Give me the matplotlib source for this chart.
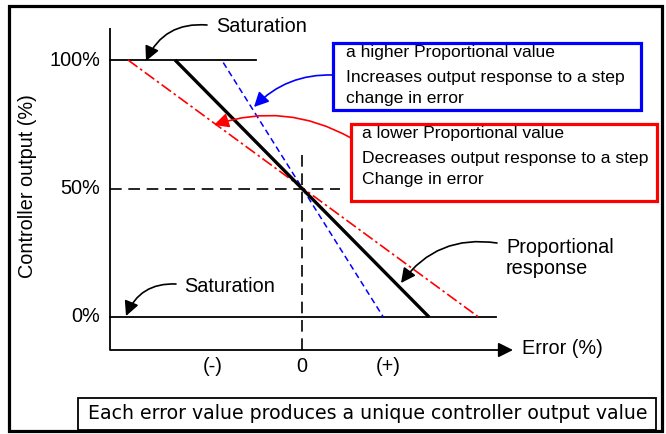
import matplotlib
matplotlib.use("Agg")
import matplotlib.pyplot as plt
from matplotlib.patches import Rectangle, FancyArrowPatch

plt.rcParams['font.family'] = ['Liberation Sans', 'DejaVu Sans']

# ---------------- data ----------------
output_ticks = [0, 50, 100]
output_tick_labels = ["0%", "50%", "100%"]
error_ticks = [-35, 0, 34]
error_tick_labels = ["(-)", "0", "(+)"]

prop_error = [-50, 50]          # proportional response (black)
prop_output = [100, 0]
high_error = [-31, 32]          # higher proportional value (blue)
high_output = [99, 0]
low_error = [-68.5, 69.5]       # lower proportional value (red)
low_output = [100, 0]

sat_high_error = [-75.6, -18.1]
sat_high_output = [100, 100]
sat_low_error = [-75.6, 76.4]
sat_low_output = [0, 0]
setpoint_output = 50
zero_error = 0

# ---------------- figure ----------------
W, H = 666, 434
fig = plt.figure(figsize=(W / 100, H / 100), dpi=100)
ax = fig.add_axes([0, 0, 1, 1])
X0, XS, Y0, YS = 302, 2.54, 317, 2.57
ax.set_xlim(-X0 / XS, (W - X0) / XS)
ax.set_ylim((Y0 - H) / YS, Y0 / YS)
ax.axis('off')


def P(px, py):
    return ((px - X0) / XS, (Y0 - py) / YS)


def px_w(w):
    return w / XS


def px_h(h):
    return h / YS


FS = 14.3

# outer frame
x, y = P(9, 431)
ax.add_patch(Rectangle((x, y), px_w(653), px_h(425), fill=False, lw=2.3,
                       ec='black', clip_on=False))

# axes
yax_x = P(110, 0)[0]
ax.plot([yax_x, yax_x], [P(0, 350)[1], P(0, 28)[1]], color='black', lw=1.3,
        solid_capstyle='butt')
ax.add_patch(FancyArrowPatch(P(110, 350), P(513, 350), arrowstyle='-|>',
                             mutation_scale=22, lw=1.3, color='black',
                             shrinkA=0, shrinkB=0))

# saturation lines
ax.plot(sat_high_error, sat_high_output, color='black', lw=1.3)
ax.plot(sat_low_error, sat_low_output, color='black', lw=1.3)

# 50% / zero error dashed guides
ax.plot([yax_x, P(340, 0)[0]], [setpoint_output, setpoint_output],
        color='black', lw=1.2, ls=(0, (7, 4)))
ax.plot([zero_error, zero_error], [P(0, 155)[1], P(0, 350)[1]],
        color='black', lw=1.2, ls=(0, (7, 4)))

# response lines
ax.plot(low_error, low_output, color='red', lw=1.2, ls=(0, (7, 2, 1.5, 2)))
ax.plot(high_error, high_output, color='blue', lw=1.1, ls=(0, (4, 2.5)))
ax.plot(prop_error, prop_output, color='black', lw=2.4, solid_capstyle='butt')

# tick labels
for v, lab in zip(output_ticks, output_tick_labels):
    ax.text(P(100, 0)[0], v, lab, ha='right', va='center', fontsize=FS)
for v, lab in zip(error_ticks, error_tick_labels):
    ax.text(v, P(0, 366)[1], lab, ha='center', va='center', fontsize=FS)

ax.text(*P(28, 186), "Controller output (%)", rotation=90, ha='center',
        va='center', fontsize=FS)
ax.text(*P(522, 349), "Error (%)", ha='left', va='center', fontsize=FS)

arrow_kw = dict(lw=1.2, mutation_scale=22, shrinkA=0, shrinkB=0,
                arrowstyle='-|>')

# saturation labels and arrows
ax.text(*P(216, 32), "Saturation", ha='left', va='baseline', fontsize=FS)
ax.annotate('', xy=P(146, 61), xytext=P(207, 25),
            arrowprops=dict(connectionstyle='arc3,rad=0.35', color='black',
                            **arrow_kw))
ax.text(*P(184, 292), "Saturation", ha='left', va='baseline', fontsize=FS)
ax.annotate('', xy=P(126, 316), xytext=P(176, 284),
            arrowprops=dict(connectionstyle='arc3,rad=0.35', color='black',
                            **arrow_kw))

# proportional response label
ax.text(*P(506, 253), "Proportional", ha='left', va='baseline', fontsize=FS)
ax.text(*P(506, 274), "response", ha='left', va='baseline', fontsize=FS)
ax.annotate('', xy=P(401, 283), xytext=P(497, 243),
            arrowprops=dict(connectionstyle='arc3,rad=0.3', color='black',
                            **arrow_kw))

# blue box
x, y = P(333, 110)
ax.add_patch(Rectangle((x, y), px_w(308), px_h(67), fill=False, lw=2.3,
                       ec='#0000ff'))
BF = 12.6
ax.text(*P(346, 57), "a higher Proportional value", fontsize=BF, va='baseline')
ax.text(*P(346, 82), "Increases output response to a step", fontsize=BF,
        va='baseline')
ax.text(*P(346, 103), "change in error", fontsize=BF, va='baseline')
ax.annotate('', xy=P(254, 107), xytext=P(333, 75),
            arrowprops=dict(connectionstyle='arc3,rad=0.22', color='#0000ff',
                            **arrow_kw))

# red box
x, y = P(351, 201)
ax.add_patch(Rectangle((x, y), px_w(306), px_h(77), fill=False, lw=2.3,
                       ec='#ff0000'))
ax.text(*P(362, 138), "a lower Proportional value", fontsize=BF, va='baseline')
ax.text(*P(362, 163), "Decreases output response to a step", fontsize=BF,
        va='baseline')
ax.text(*P(362, 184), "Change in error", fontsize=BF, va='baseline')
ax.annotate('', xy=P(214, 125), xytext=P(351, 138),
            arrowprops=dict(connectionstyle='arc3,rad=0.22', color='#ff0000',
                            **arrow_kw))

# bottom note
x, y = P(78, 430)
ax.add_patch(Rectangle((x, y), px_w(578), px_h(32), fill=False, lw=1.3,
                       ec='black'))
ax.text(*P(88, 419), "Each error value produces a unique controller output value",
        fontsize=13.6, va='baseline', ha='left',
        family=['DejaVu Sans'])

fig.savefig("out.png", dpi=100)
